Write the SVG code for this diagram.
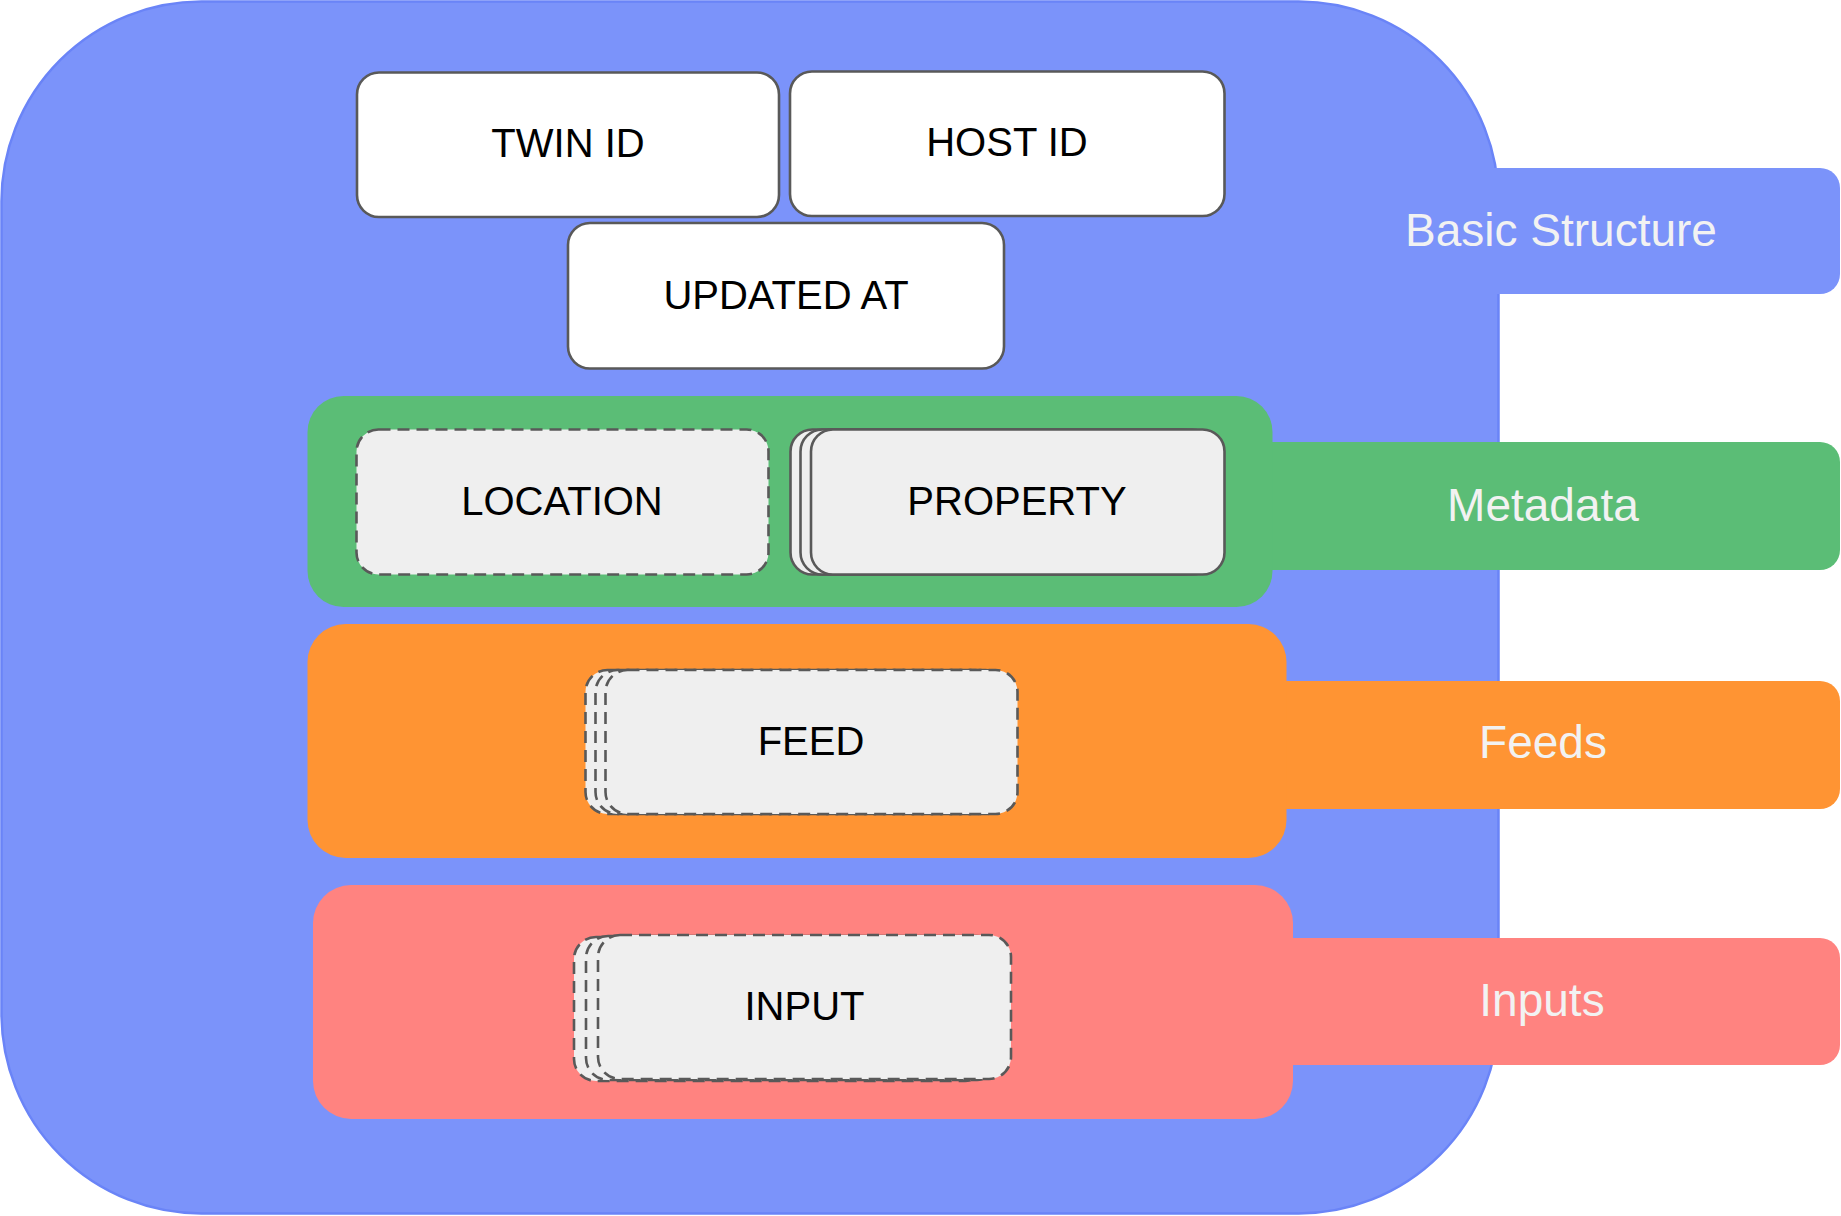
<svg xmlns="http://www.w3.org/2000/svg" width="1841" height="1216" viewBox="0 0 1841 1216">
  <style>
    .lbl { font-family: "Liberation Sans", Arial, Helvetica, sans-serif; font-size: 40px; fill: #000000; text-anchor: middle; }
    .tab { font-family: "Liberation Sans", Arial, Helvetica, sans-serif; font-size: 46px; fill: #F2F2F2; text-anchor: middle; }
    .white { fill: #FFFFFF; stroke: #595959; stroke-width: 2.6; }
    .solidgrey { fill: #EFEFEF; stroke: #595959; stroke-width: 2.6; }
    .dashgrey { fill: #EFEFEF; stroke: #595959; stroke-width: 2.6; stroke-dasharray: 12 7; }
  </style>

  <g id="basic-structure">
    <rect x="1.5" y="1.5" width="1497" height="1212" rx="200" ry="200" fill="#7B93FA" stroke="#6A84F7" stroke-width="2.5"/>
    <path d="M1480,168 H1820 A20,20 0 0 1 1840,188 V274 A20,20 0 0 1 1820,294 H1480 Z" fill="#7B93FA"/>
    <text class="tab" x="1561" y="246">Basic Structure</text>
  </g>

  <g id="twin-id">
    <rect class="white" x="357" y="72.5" width="422" height="144.5" rx="22"/>
    <text class="lbl" x="568" y="157">TWIN ID</text>
  </g>
  <g id="host-id">
    <rect class="white" x="790" y="71.5" width="434.5" height="144.5" rx="22"/>
    <text class="lbl" x="1007" y="156">HOST ID</text>
  </g>
  <g id="updated-at">
    <rect class="white" x="568" y="223" width="436" height="145.5" rx="22"/>
    <text class="lbl" x="786" y="308.5">UPDATED AT</text>
  </g>

  <g id="metadata">
    <path d="M1250,442 H1820 A20,20 0 0 1 1840,462 V550 A20,20 0 0 1 1820,570 H1250 Z" fill="#5BBD76"/>
    <rect x="307.5" y="396" width="965" height="211" rx="36" fill="#5BBD76"/>
    <text class="tab" x="1543" y="521">Metadata</text>
  </g>
  <g id="location">
    <rect class="dashgrey" x="356.5" y="429.5" width="412" height="145" rx="22"/>
    <text class="lbl" x="562" y="514.5">LOCATION</text>
  </g>
  <g id="property">
    <rect class="solidgrey" x="790.5" y="429.5" width="413.5" height="145" rx="22"/>
    <rect class="solidgrey" x="800.5" y="429.5" width="413.5" height="145" rx="22"/>
    <rect class="solidgrey" x="811" y="429.5" width="413.5" height="145" rx="22"/>
    <text class="lbl" x="1017" y="514.5">PROPERTY</text>
  </g>

  <g id="feeds">
    <path d="M1260,681 H1820 A20,20 0 0 1 1840,701 V789 A20,20 0 0 1 1820,809 H1260 Z" fill="#FF9433"/>
    <rect x="307.5" y="624" width="979" height="234" rx="38" fill="#FF9433"/>
    <text class="tab" x="1543" y="758">Feeds</text>
  </g>
  <g id="feed">
    <rect class="dashgrey" x="585.5" y="670" width="412" height="144" rx="22"/>
    <rect class="dashgrey" x="595.5" y="670" width="412" height="144" rx="22"/>
    <rect class="dashgrey" x="605.5" y="670" width="412" height="144" rx="22"/>
    <text class="lbl" x="811" y="754.5">FEED</text>
  </g>

  <g id="inputs">
    <path d="M1260,938 H1820 A20,20 0 0 1 1840,958 V1045 A20,20 0 0 1 1820,1065 H1260 Z" fill="#FF8380"/>
    <rect x="313" y="885" width="980" height="234" rx="38" fill="#FF8380"/>
    <text class="tab" x="1542" y="1016">Inputs</text>
  </g>
  <g id="input">
    <rect class="dashgrey" x="574" y="937" width="413" height="144" rx="22"/>
    <rect class="dashgrey" x="586" y="936" width="413" height="144" rx="22"/>
    <rect class="dashgrey" x="598" y="935" width="413" height="144" rx="22"/>
    <text class="lbl" x="804.5" y="1019.5">INPUT</text>
  </g>

  <g id="connectors"/>
</svg>
